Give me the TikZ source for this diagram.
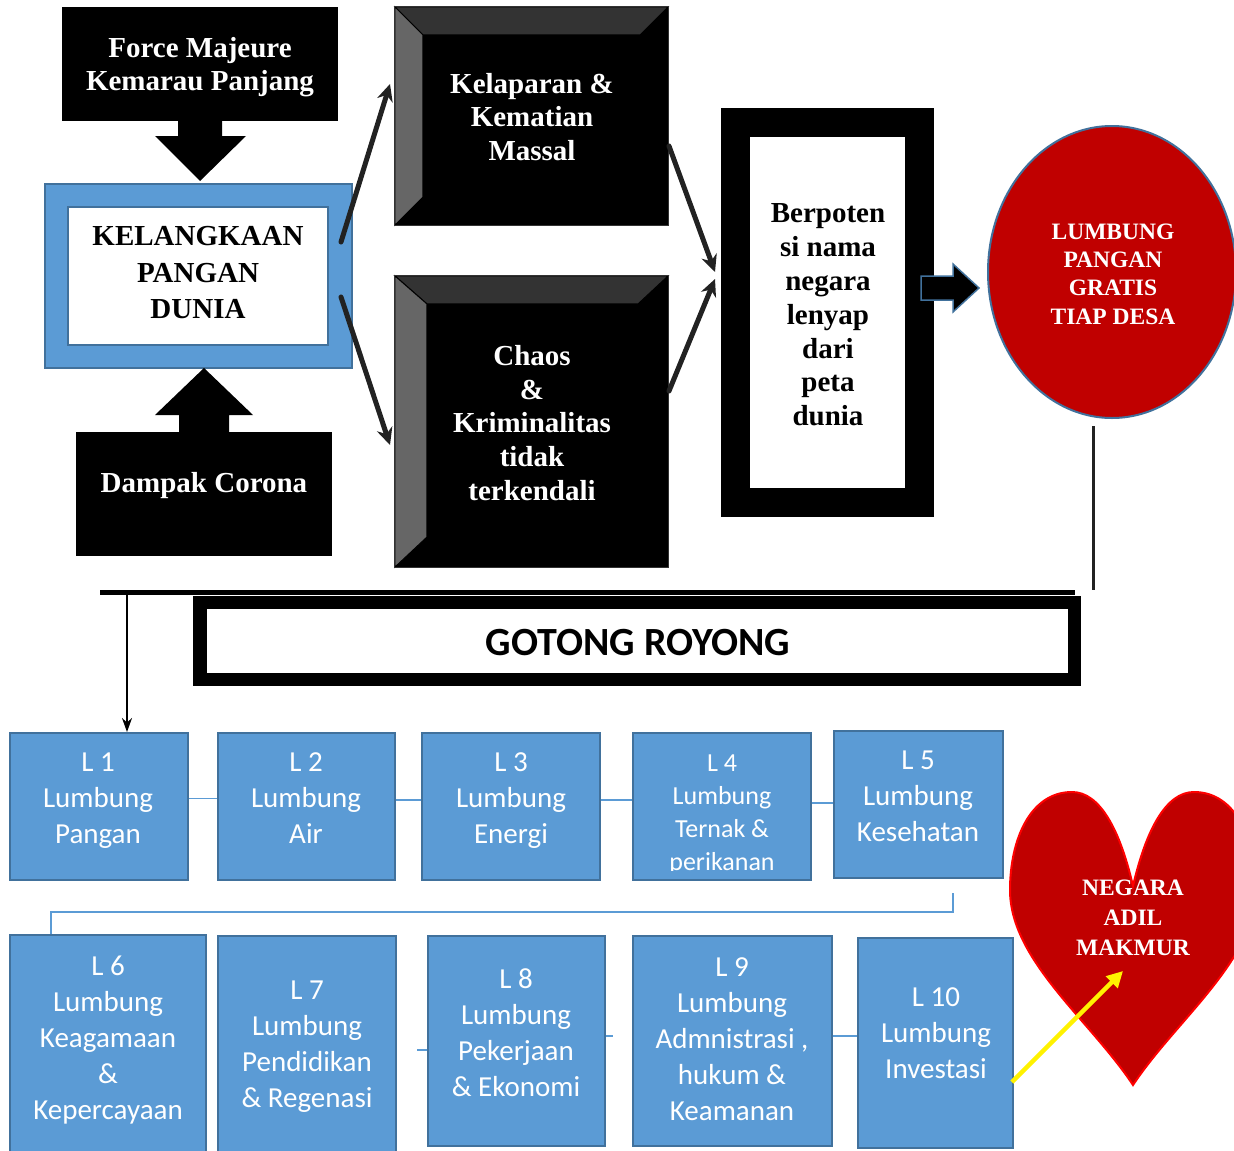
\documentclass[tikz,border=0pt]{standalone}
\usepackage{fontspec}
\setmainfont{Liberation Serif}
\newfontfamily\calib{Carlito}
\usetikzlibrary{shapes.geometric,arrows.meta}
\definecolor{bfill}{HTML}{5B9BD5}
\definecolor{bedge}{HTML}{41719C}
\definecolor{dred}{HTML}{C00000}
\definecolor{bevtop}{HTML}{333333}
\definecolor{bevleft}{HTML}{666666}
\definecolor{dk}{HTML}{222222}
\begin{document}
\begin{tikzpicture}[x=1pt,y=-1pt,
  blk/.style={rectangle, fill=black, inner sep=0pt, text=white, align=center,
    font=\bfseries\fontsize{29}{33}\selectfont},
  bev/.style={fill=#1, draw=black, line width=1pt},
  arr/.style={draw=dk, line width=5pt, line cap=round, -{Stealth[length=17pt,width=16pt]}},
  lbox/.style={rectangle, fill=bfill, draw=bedge, line width=2pt, inner sep=0pt},
  ltext/.style={text=white, align=center, font=\calib\fontsize{29}{36}\selectfont},
  lconn/.style={draw=bfill, line width=1.5pt},
  whitetext/.style={text=white, align=center}
]
\useasboundingbox (0,0) rectangle (1234,1151);
\clip (0,0) rectangle (1234,1151);

% Force majeure
\node[blk, minimum width=276, minimum height=114] (fm) at (200,64) {};
\node[whitetext, font=\bfseries\fontsize{29}{33}\selectfont] (fmt) at (200,67.5) {Force Majeure\\Kemarau Panjang};
\fill (178,121) -- (222,121) -- (222,136) -- (246,136) -- (200,181) -- (155,136) -- (178,136) -- cycle;

% Kelangkaan
\node[lbox, minimum width=307, minimum height=184] (kelo) at (198.5,276) {};
\node[rectangle, fill=white, draw=bedge, line width=2pt, inner sep=0pt, minimum width=260, minimum height=138] (keli) at (198,276) {};
\node[align=center, font=\bfseries\fontsize{29}{36.5}\selectfont] (kelt) at (198,273) {KELANGKAAN\\PANGAN\\DUNIA};

% Dampak corona
\fill (204,368) -- (253,415) -- (229,415) -- (229,432) -- (179,432) -- (179,415) -- (155,415) -- cycle;
\node[blk, minimum width=256, minimum height=124] (dc) at (204,494) {};
\node[whitetext, font=\bfseries\fontsize{29}{33}\selectfont] (dct) at (204,486) {Dampak Corona};

% Kelaparan (bevel)
\node[blk, minimum width=273, minimum height=218] (kl) at (531.5,116) {};
\fill[bev=bevtop] (kl.north west) -- (kl.north east) -- ([xshift=-28pt,yshift=-28pt]kl.north east) -- ([xshift=28pt,yshift=-28pt]kl.north west) -- cycle;
\fill[bev=bevleft] (kl.north west) -- ([xshift=28pt,yshift=-28pt]kl.north west) -- ([xshift=28pt,yshift=28pt]kl.south west) -- (kl.south west) -- cycle;
\draw[bevtop, line width=1pt] (kl.north west) rectangle (kl.south east);
\node[whitetext, font=\bfseries\fontsize{29}{33.5}\selectfont] (klt) at (532,117) {Kelaparan \&\\Kematian\\Massal};

% Chaos (bevel)
\node[blk, minimum width=273, minimum height=291] (ch) at (531.5,421.5) {};
\fill[bev=bevtop] (ch.north west) -- (ch.north east) -- ([xshift=-30pt,yshift=-28pt]ch.north east) -- ([xshift=32pt,yshift=-28pt]ch.north west) -- cycle;
\fill[bev=bevleft] (ch.north west) -- ([xshift=32pt,yshift=-28pt]ch.north west) -- ([xshift=32pt,yshift=30pt]ch.south west) -- (ch.south west) -- cycle;
\draw[bevtop, line width=1pt] (ch.north west) rectangle (ch.south east);
\node[whitetext, font=\bfseries\fontsize{29}{33.7}\selectfont] (cht) at (532,423) {Chaos\\\&\\Kriminalitas\\tidak\\terkendali};

% Berpotensi
\node[rectangle, fill=black, inner sep=0pt, minimum width=213, minimum height=409] (bpo) at (827.5,312.5) {};
\node[rectangle, fill=white, inner sep=0pt, minimum width=155, minimum height=351] (bp) at (827.5,312.5) {};
\node[align=center, font=\bfseries\fontsize{29}{33.8}\selectfont] (bpt) at (828,315) {Berpoten\\si nama\\negara\\lenyap\\dari\\peta\\dunia};

% block arrow to ellipse
\filldraw[fill=black, draw=bedge, line width=1.5pt] (921,276) -- (953,276) -- (953,264) -- (979,288) -- (953,312) -- (953,300) -- (921,300) -- cycle;

% Lumbung pangan ellipse
\node[ellipse, fill=dred, draw=bedge, line width=2pt, inner sep=0pt, minimum width=248, minimum height=292] (lp) at (1112,272) {};
\node[whitetext, font=\bfseries\fontsize{23.5}{28.3}\selectfont] (lpt) at (1113,274) {LUMBUNG\\PANGAN\\GRATIS\\TIAP DESA};

% arrows top
\coordinate (a1s) at (341,242); \coordinate (a1e) at (390,84);
\coordinate (a2s) at (341,297); \coordinate (a2e) at (390,445);
\coordinate (a3s) at (669,146); \coordinate (a3e) at (715,272);
\coordinate (a4s) at (669,391); \coordinate (a4e) at (715,279);
\draw[arr] (a1s) -- (a1e);
\draw[arr] (a2s) -- (a2e);
\draw[arr] (a3s) -- (a3e);
\draw[arr] (a4s) -- (a4e);

% lines to gotong royong
\coordinate (vt) at (1093,426); \coordinate (vb) at (1093,590);
\draw[dk, line width=3pt] (vt) -- (vb);
\node[rectangle, fill=black, inner sep=0pt, minimum width=888, minimum height=90] (gro) at (637,641) {};
\node[rectangle, fill=white, inner sep=0pt, minimum width=861, minimum height=64] (gr) at (637.5,641) {};
\node[font=\calib\bfseries\fontsize{40}{48}\selectfont] (grt) at (638,643) {GOTONG ROYONG};
\coordinate (hl) at (100,592); \coordinate (hr) at (1075,592);
\draw[line width=5pt] (hl) -- (hr);
\coordinate (dn) at (127,592);

% L boxes row 1
\node[lbox, minimum width=178, minimum height=147] (L1) at (99,806.5) {};
\node[lbox, minimum width=177, minimum height=147] (L2) at (306.5,806.5) {};
\node[lbox, minimum width=178, minimum height=147] (L3) at (511,806.5) {};
\node[lbox, minimum width=178, minimum height=147] (L4) at (722,806.5) {};
\node[lbox, minimum width=169, minimum height=147] (L5) at (918.5,804.5) {};
\node[ltext] (t1) at (98,801) {L 1\\Lumbung\\Pangan};
\node[ltext] (t2) at (306,798) {L 2\\Lumbung\\Air};
\node[ltext] (t3) at (511,801) {L 3\\Lumbung\\Energi};
\begin{scope}
\clip (633,733) rectangle (811,870);
\node[ltext, font=\calib\fontsize{26}{33}\selectfont] (t4) at (722,815) {L 4\\Lumbung\\Ternak \&\\perikanan};
\end{scope}
\node[ltext] (t5) at (918,796) {L 5\\Lumbung\\Kesehatan};

\draw[line width=2pt, -{Stealth[length=14pt,width=10pt]}] (dn) -- (L1.north -| dn);

\draw[lconn] ([yshift=8pt]L1.east) -- ([yshift=8pt]L2.west);
\draw[lconn] ([yshift=6.5pt]L2.east) -- ([yshift=6.5pt]L3.west);
\draw[lconn] ([yshift=6.5pt]L3.east) -- ([yshift=6.5pt]L4.west);
\draw[lconn] ([yshift=3.5pt]L4.east) -- ([yshift=1.5pt]L5.west);

% row 2
\node[lbox, minimum width=196, minimum height=235] (L6) at (108,1052.5) {};
\node[lbox, minimum width=178, minimum height=234] (L7) at (307,1053) {};
\node[lbox, minimum width=177, minimum height=210] (L8) at (516.5,1041) {};
\node[lbox, minimum width=199, minimum height=210] (L9) at (732.5,1041) {};
\node[lbox, minimum width=155, minimum height=210] (L10) at (935.5,1043) {};
\node[ltext] (t6) at (108,1040) {L 6\\Lumbung\\Keagamaan\\\&\\Kepercayaan};
\node[ltext] (t7) at (307,1047) {L 7\\Lumbung\\Pendidikan\\\& Regenasi};
\node[ltext] (t8) at (516,1033) {L 8\\Lumbung\\Pekerjaan\\\& Ekonomi};
\node[ltext] (t9) at (732,1039) {L 9\\Lumbung\\Admnistrasi ,\\hukum \&\\Keamanan};
\node[ltext] (t10) at (936,1033) {L 10\\Lumbung\\Investasi};

\coordinate (e0) at (953,893);
\draw[lconn] (e0) -- ++(0,19) -| ([xshift=-57pt]L6.north);
\draw[lconn] ([xshift=-10pt,yshift=-9pt]L8.west) -- ([yshift=-9pt]L8.west);
\draw[lconn] ([yshift=5pt]L8.east) -- ++(7,0);
\draw[lconn] ([yshift=5pt]L9.east) -- ([yshift=7pt]L10.west);

% heart
\filldraw[fill=dred, draw=red, line width=2pt] (1133,886) .. controls (1120,830) and (1100,792) .. (1072,792)
  .. controls (1030,792) and (1010,840) .. (1010,890)
  .. controls (1010,960) and (1090,1020) .. (1133,1085)
  .. controls (1176,1020) and (1256,960) .. (1256,890)
  .. controls (1256,840) and (1236,792) .. (1194,792)
  .. controls (1166,792) and (1146,830) .. (1133,886) -- cycle;
\node[whitetext, font=\bfseries\fontsize{23.5}{30}\selectfont] (ht) at (1133,918) {NEGARA\\ADIL\\MAKMUR};

\coordinate (ys) at (1012,1082); \coordinate (ye) at (1123,971);
\draw[draw=yellow, line width=4.5pt, -{Triangle[length=16pt,width=16pt]}] (ys) -- (ye);
\end{tikzpicture}
\end{document}
